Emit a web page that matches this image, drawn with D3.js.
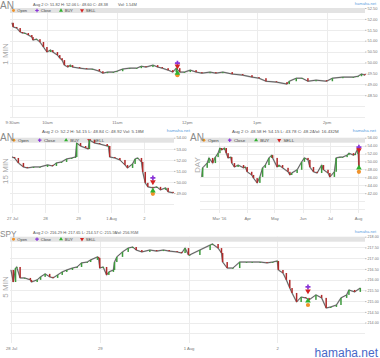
<!DOCTYPE html>
<html>
<head>
<meta charset="utf-8">
<script src="https://cdn.jsdelivr.net/npm/d3@7"></script>
<style>
  body { margin: 0; background: #fff; }
  svg { display: block; font-family: Arial, "Liberation Sans", sans-serif; }
</style>
</head>
<body>
<div id="chart"></div>
<script>
// ---- data ----
// 1 MIN (AN): minutes after 9:30am and close
const m1Minutes = [0, 1, 4, 7, 9, 11, 14, 17, 18, 21, 24, 27, 30, 33, 35, 39, 41, 43, 45, 48, 50, 52, 58, 64, 69, 75, 78, 82, 87, 90, 95, 101, 107, 111, 115, 121, 125, 129, 134, 138, 141, 144, 148, 153, 158, 163, 170, 175, 181, 189, 198, 206, 212, 218, 227, 236, 238, 244, 249, 254, 261, 270, 275, 284, 293, 297, 300, 303];
const m1Close = [51.82, 51.63, 51.58, 51.40, 51.35, 51.35, 51.26, 51.17, 51.03, 51.07, 50.94, 50.71, 50.48, 50.57, 50.48, 50.34, 50.20, 50.11, 49.88, 49.79, 49.88, 49.79, 49.74, 49.70, 49.70, 49.60, 49.51, 49.56, 49.56, 49.60, 49.70, 49.74, 49.74, 49.83, 49.79, 49.88, 49.79, 49.74, 49.65, 49.56, 49.74, 49.56, 49.56, 49.65, 49.56, 49.51, 49.56, 49.51, 49.56, 49.47, 49.42, 49.33, 49.28, 49.14, 49.10, 49.01, 49.14, 49.28, 49.28, 49.14, 49.19, 49.14, 49.28, 49.33, 49.33, 49.37, 49.47, 49.42];
const m1TickMinutes = [0, 30, 90, 150, 210, 270];
const m1TickLabels = ["9:30am", "10am", "11am", "12pm", "1pm", "2pm"];
const m1YTicks = [48.5, 49, 49.5, 50, 50.5, 51, 51.5, 52, 52.5];
const m1MarkerAt = 142;
const m1Markers = [49.42, 49.97, 49.51, 49.83]; // Open, Close, BUY, SELL

// 15 MIN (AN): bar index (26 bars a day) and close
const m15Index = [0, 2, 5, 9, 12, 17, 22, 28, 32, 35, 39, 43, 47, 50, 51, 54, 58, 60, 61, 65, 69, 75, 76, 77, 81, 85, 89, 91, 95, 97, 99, 102, 103, 105, 107, 111, 114, 117, 121, 123, 127];
const m15Close = [52.26, 52.17, 51.72, 51.36, 51.27, 51.36, 51.36, 51.54, 51.45, 51.72, 51.81, 52.08, 52.17, 52.26, 53.52, 53.25, 53.07, 52.98, 53.79, 53.52, 53.43, 53.25, 53.25, 52.26, 52.17, 51.99, 51.54, 51.27, 51.63, 52.08, 52.17, 51.81, 50.91, 49.92, 49.56, 49.47, 49.56, 49.29, 49.47, 49.11, 49.02];
const m15TickIndex = [0, 26, 52, 78, 104];
const m15TickLabels = ["27 Jul", "28", "29", "1 Aug", "2"];
const m15YTicks = [49, 50, 51, 52, 53, 54];
const m15MarkerAt = 111;
const m15Markers = [48.93, 50.37, 49.20, 50.01];

// DAY (AN)
const dayDates = ["2016-02-11", "2016-02-12", "2016-02-17", "2016-02-19", "2016-02-23", "2016-02-26", "2016-02-29", "2016-03-02", "2016-03-04", "2016-03-07", "2016-03-09", "2016-03-11", "2016-03-14", "2016-03-15", "2016-03-18", "2016-03-22", "2016-03-28", "2016-03-30", "2016-04-01", "2016-04-06", "2016-04-08", "2016-04-12", "2016-04-15", "2016-04-18", "2016-04-21", "2016-04-25", "2016-04-28", "2016-04-29", "2016-05-04", "2016-05-06", "2016-05-10", "2016-05-16", "2016-05-18", "2016-05-20", "2016-05-26", "2016-05-31", "2016-06-03", "2016-06-07", "2016-06-09", "2016-06-13", "2016-06-17", "2016-06-22", "2016-06-24", "2016-06-29", "2016-07-01", "2016-07-06", "2016-07-08", "2016-07-12", "2016-07-15", "2016-07-20", "2016-07-22", "2016-07-27", "2016-07-29", "2016-08-01", "2016-08-02"];
const dayClose = [46.1, 48.4, 49.6, 50.9, 49.6, 51.1, 52.1, 53.4, 52.9, 53.4, 52.1, 50.9, 51.1, 49.6, 48.6, 49.1, 48.4, 48.6, 47.4, 46.6, 45.8, 44.6, 46.1, 48.4, 49.1, 50.9, 51.6, 50.9, 48.6, 49.1, 48.4, 47.4, 46.6, 47.1, 47.9, 49.9, 50.9, 50.4, 48.6, 47.4, 47.1, 49.1, 47.9, 47.1, 46.1, 47.4, 50.9, 51.1, 51.1, 51.6, 52.1, 51.6, 51.9, 53.4, 48.2];
const dayTickDates = ["2016-03-01", "2016-04-01", "2016-05-01", "2016-06-01", "2016-07-01", "2016-08-01"];
const dayTickLabels = ["Mar '16", "Apr", "May", "Jun", "Jul", "Aug"];
const dayYTicks = [42, 44, 46, 48, 50, 52, 54, 56];
const dayMarkerAt = "2016-08-02";
const dayMarkers = [47.4, 53.6, 48.4, 52.9];

// 5 MIN (SPY): bar index (78 bars a day) and close
const m5Index = [0, 2, 4, 5, 8, 12, 17, 18, 23, 26, 30, 34, 37, 41, 45, 49, 54, 58, 62, 67, 70, 76, 77, 78, 81, 84, 86, 90, 91, 93, 98, 103, 107, 110, 115, 122, 128, 134, 139, 146, 150, 153, 156, 157, 166, 175, 177, 182, 185, 186, 190, 195, 201, 207, 212, 219, 225, 230, 234, 235, 239, 242, 245, 247, 251, 255, 259, 262, 268, 273, 277, 281, 286, 290, 295, 297, 302, 307];
const m5Close = [216.45, 215.89, 216.54, 216.59, 216.08, 216.08, 215.99, 215.89, 215.99, 216.13, 216.27, 216.13, 216.08, 216.22, 216.36, 216.45, 216.54, 216.59, 216.78, 216.82, 216.92, 217.06, 217.01, 216.54, 216.59, 216.22, 216.36, 216.45, 216.82, 217.06, 217.29, 217.47, 217.52, 217.38, 217.29, 217.38, 217.33, 217.38, 217.33, 217.29, 217.24, 217.47, 217.15, 217.15, 217.38, 217.61, 217.66, 217.47, 217.24, 216.82, 216.54, 216.54, 216.82, 216.82, 216.82, 216.82, 216.78, 216.82, 216.87, 216.45, 216.31, 215.99, 215.61, 215.38, 214.96, 215.19, 215.15, 215.06, 215.29, 215.15, 214.68, 214.73, 214.82, 215.15, 215.29, 215.52, 215.43, 215.61];
const m5TickIndex = [0, 78, 156, 234];
const m5TickLabels = ["28 Jul", "29", "1 Aug", "2"];
const m5YTicks = [214, 214.5, 215, 215.5, 216, 216.5, 217, 217.5, 218];
const m5MarkerAt = 261;
const m5Markers = [214.82, 215.66, 215.01, 215.47];

const markerNames = ["Open", "Close", "BUY", "SELL"];
const markerColors = ["#f0922a", "#8a35d8", "#2fb02f", "#d42222"];

// ---- drawing ----
const width = 380, height = 358;
const parseDay = d3.timeParse("%Y-%m-%d");

const svg = d3.select("#chart").append("svg")
    .attr("width", width)
    .attr("height", height)
    .attr("viewBox", [0, 0, width, height]);

function markerPath(i, size) {
    if (i === 0) return d3.symbol(d3.symbolCircle, size)();
    if (i === 1) return d3.symbol(d3.symbolCross, size)();
    return d3.symbol(d3.symbolTriangle, size)();
}

function drawPanel(p) {
    const g = svg.append("g");
    const x = p.x;
    const y = d3.scaleLinear().domain(p.yDomain).range([p.bottom, p.top]);

    // horizontal grid, every tick step over the whole plot
    const step = p.yTicks[1] - p.yTicks[0];
    const gridVals = d3.range(p.yTicks[p.yTicks.length - 1], p.yDomain[0] - 1e-9, -step);
    g.append("g").selectAll("line")
        .data(gridVals)
        .join("line")
        .attr("x1", p.left).attr("x2", p.right)
        .attr("y1", d => Math.round(y(d)) + 0.5)
        .attr("y2", d => Math.round(y(d)) + 0.5)
        .attr("stroke", "#ececec");

    // vertical grid at x ticks
    g.append("g").selectAll("line")
        .data(p.xTickVals)
        .join("line")
        .attr("x1", d => Math.round(x(d)) + 0.5)
        .attr("x2", d => Math.round(x(d)) + 0.5)
        .attr("y1", p.top).attr("y2", p.bottom)
        .attr("stroke", "#ececec");

    // legend bar
    g.append("rect")
        .attr("x", p.left).attr("y", p.top)
        .attr("width", p.right - p.left).attr("height", 5)
        .attr("fill", "#e3e3e3");

    const k = p.k;
    const legendPos = [3.5, 27, 51, 72].map(v => v * k);
    markerNames.forEach((name, i) => {
        g.append("path")
            .attr("d", markerPath(i, 7))
            .attr("transform", `translate(${p.left + legendPos[i]},${p.top + 2.5}) rotate(${i === 3 ? 180 : 0})`)
            .attr("fill", markerColors[i]);
        g.append("text")
            .attr("x", p.left + legendPos[i] + 3.8 * k)
            .attr("y", p.top + 4)
            .attr("font-size", 4 * k)
            .attr("fill", "#444")
            .text(name);
    });

    // right axis
    const yAxis = g.append("g")
        .attr("transform", `translate(${p.right},0)`)
        .call(d3.axisRight(y).tickValues(p.yTicks).tickFormat(d3.format(".2f")).tickSize(1.5).tickPadding(1));
    yAxis.select(".domain").remove();
    yAxis.selectAll("line").attr("stroke", "#bbb");
    yAxis.selectAll("text").attr("font-size", p.yFont).attr("fill", "#777").attr("font-family", null);

    // bottom axis
    const xAxis = g.append("g")
        .attr("transform", `translate(0,${p.bottom})`)
        .call(d3.axisBottom(x).tickValues(p.xTickVals).tickFormat((d, i) => p.xTickLabels[i]).tickSize(0).tickPadding(4));
    xAxis.select(".domain").remove();
    xAxis.selectAll("text").attr("font-size", 4.2).attr("fill", "#777").attr("font-family", null);

    // price line
    const pts = p.xs.map((d, i) => [x(d), y(p.closes[i])]);
    g.append("path")
        .attr("d", d3.line()(pts))
        .attr("fill", "none")
        .attr("stroke", "#9a9a9a")
        .attr("stroke-width", 1.6)
        .attr("stroke-opacity", 0.6);
    g.append("path")
        .attr("d", d3.line()(pts))
        .attr("fill", "none")
        .attr("stroke", "#3a3a3a")
        .attr("stroke-width", 0.7);

    // candle bodies: open = previous close
    g.append("g").selectAll("rect")
        .data(p.closes.slice(1))
        .join("rect")
        .attr("x", (d, i) => x(p.xs[i + 1]) - 0.75)
        .attr("width", 1.5)
        .attr("y", (d, i) => y(Math.max(d, p.closes[i])))
        .attr("height", (d, i) => Math.max(0.8, Math.abs(y(d) - y(p.closes[i]))))
        .attr("fill", (d, i) => d >= p.closes[i] ? "#3d9a3d" : "#b02a2a");

    // Open / Close / BUY / SELL markers
    p.markers.forEach((v, i) => {
        g.append("path")
            .attr("d", markerPath(i, 14))
            .attr("transform", `translate(${x(p.markerAt)},${y(v)}) rotate(${i === 3 ? 180 : 0})`)
            .attr("fill", markerColors[i]);
    });

    // texts
    g.append("text")
        .attr("x", p.titleX).attr("y", p.titleY)
        .attr("font-size", p.titleFont)
        .attr("fill", "#8a8a8a")
        .text(p.title);
    g.append("text")
        .attr("x", p.headerX).attr("y", p.headerY)
        .attr("font-size", 4 * k)
        .attr("fill", "#555")
        .text(p.header);
    g.append("text")
        .attr("x", p.volX).attr("y", p.headerY)
        .attr("font-size", 4 * k)
        .attr("fill", "#555")
        .text(p.vol);
    g.append("text")
        .attr("x", p.siteX).attr("y", p.headerY - 0.5)
        .attr("text-anchor", "end")
        .attr("font-size", 4 * k)
        .attr("fill", "#5a9ee0")
        .text("hamaha.net");
    g.append("text")
        .attr("transform", `translate(${p.periodX},${p.periodY}) rotate(-90)`)
        .attr("text-anchor", "middle")
        .attr("font-size", 8)
        .attr("fill", "#a8a8a8")
        .text(p.period);
}

drawPanel({
    left: 10, right: 365, top: 8, bottom: 117, k: 1, yFont: 4,
    x: d3.scaleLinear().domain([0, 303]).range([12, 365]),
    yDomain: [47.5, 52.5], yTicks: m1YTicks,
    xTickVals: m1TickMinutes, xTickLabels: m1TickLabels,
    xs: m1Minutes, closes: m1Close,
    markerAt: m1MarkerAt, markers: m1Markers,
    title: "AN", titleX: 0, titleY: 9, titleFont: 10,
    header: "Aug 2 O: 51.82 H: 52.06 L: 48.60 C: 48.38", vol: "Vol: 1.54M",
    headerX: 33, volX: 118, headerY: 5.5, siteX: 376,
    period: "1 MIN", periodX: 7.5, periodY: 54
});

drawPanel({
    left: 10, right: 174, top: 137.7, bottom: 213, k: 1.1, yFont: 4,
    x: d3.scaleLinear().domain([0, 130]).range([12, 177]),
    yDomain: [47.2, 54], yTicks: m15YTicks,
    xTickVals: m15TickIndex, xTickLabels: m15TickLabels,
    xs: m15Index, closes: m15Close,
    markerAt: m15MarkerAt, markers: m15Markers,
    title: "AN", titleX: 0, titleY: 140.5, titleFont: 10,
    header: "Aug 2 O: 52.2 H: 54.15 L: 48.84 C: 48.92", vol: "Vol: 5.18M",
    headerX: 42, volX: 123, headerY: 132.5, siteX: 190,
    period: "15 MIN", periodX: 7.5, periodY: 171
});

drawPanel({
    left: 200, right: 365, top: 137.7, bottom: 213, k: 1.1, yFont: 4,
    x: d3.scaleTime().domain([parseDay("2016-03-01"), parseDay("2016-08-01")]).range([219, 358]),
    yDomain: [37, 56], yTicks: dayYTicks,
    xTickVals: dayTickDates.map(parseDay), xTickLabels: dayTickLabels,
    xs: dayDates.map(parseDay), closes: dayClose,
    markerAt: parseDay(dayMarkerAt), markers: dayMarkers,
    title: "AN", titleX: 190, titleY: 140.5, titleFont: 10,
    header: "Aug 2 O: 48.58 H: 54.15 L: 43.78 C: 48.24", vol: "Vol: 16.432M",
    headerX: 232, volX: 313, headerY: 132.5, siteX: 376,
    period: "DAY", periodX: 199.5, periodY: 165
});

drawPanel({
    left: 10, right: 365, top: 236.7, bottom: 343, k: 1, yFont: 3.7,
    x: d3.scaleLinear().domain([0, 312]).range([11, 366]),
    yDomain: [213.05, 218], yTicks: m5YTicks,
    xTickVals: m5TickIndex, xTickLabels: m5TickLabels,
    xs: m5Index, closes: m5Close,
    markerAt: m5MarkerAt, markers: m5Markers,
    title: "SPY", titleX: 0, titleY: 237, titleFont: 8.3,
    header: "Aug 2 O: 216.29 H: 217.65 L: 214.57 C: 215.56", vol: "Vol: 256.95M",
    headerX: 33, volX: 115, headerY: 233.5, siteX: 376,
    period: "5 MIN", periodX: 7.5, periodY: 287
});

// watermark
svg.append("text")
    .attr("x", 378).attr("y", 356.5)
    .attr("text-anchor", "end")
    .attr("font-size", 12)
    .attr("fill", "#4868c8")
    .text("hamaha.net");
</script>
</body>
</html>
